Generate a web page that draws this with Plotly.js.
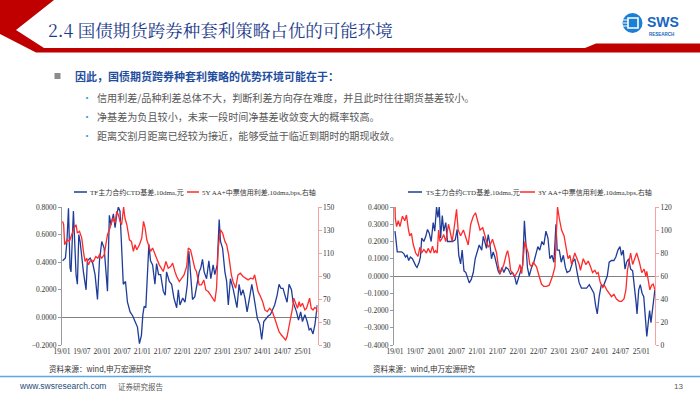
<!DOCTYPE html>
<html><head><meta charset="utf-8">
<script src="https://cdn.plot.ly/plotly-3.0.1.min.js"></script>
<style>html,body{margin:0;padding:0;background:#fff}#c{width:700px;height:394px}</style>
</head><body><div id="c"></div>
<script>
// ---- data: left chart (TF basis, 5Y AA+ spread) ----
const tfDates = ['2019-01-07','2019-02-01','2019-02-15','2019-03-01','2019-03-15','2019-03-24','2019-04-15','2019-04-24','2019-05-09','2019-05-21','2019-06-03','2019-06-15','2019-06-30','2019-07-15','2019-08-08','2019-08-20','2019-09-14','2019-10-08','2019-10-29','2019-11-20','2019-12-08','2019-12-29','2020-01-20','2020-02-19','2020-03-07','2020-03-22','2020-04-13','2020-04-28','2020-05-13','2020-05-28','2020-06-12','2020-06-27','2020-07-12','2020-08-01','2020-08-19','2020-09-12','2020-10-06','2020-10-27','2020-11-18','2020-12-06','2020-12-24','2021-01-06','2021-01-18','2021-02-02','2021-02-17','2021-03-02','2021-03-17','2021-04-05','2021-04-26','2021-05-11','2021-05-29','2021-06-17','2021-07-11','2021-07-29','2021-08-10','2021-09-04','2021-09-25','2021-10-16','2021-11-10','2021-11-25','2021-12-10','2022-01-04','2022-01-25','2022-02-15','2022-03-01','2022-03-16','2022-04-03','2022-04-24','2022-05-09','2022-06-03','2022-06-18','2022-07-03','2022-07-18','2022-08-09','2022-08-30','2022-09-17','2022-10-08','2022-10-23','2022-11-14','2022-12-02','2022-12-14','2023-01-02','2023-01-23','2023-02-08','2023-02-23','2023-03-14','2023-04-07','2023-04-28','2023-05-13','2023-06-01','2023-06-19','2023-07-07','2023-07-25','2023-08-13','2023-09-07','2023-09-25','2023-10-12','2023-11-01','2023-11-15','2023-12-06','2023-12-24','2024-01-12','2024-02-01','2024-02-21','2024-03-12','2024-03-30','2024-04-20','2024-05-12','2024-05-30','2024-06-17','2024-07-05','2024-07-23','2024-08-11','2024-08-29','2024-09-20','2024-10-05','2024-10-20','2024-11-05','2024-11-23','2024-12-13','2024-12-29','2025-01-20','2025-02-10','2025-02-28','2025-03-16','2025-04-04','2025-04-22','2025-05-04','2025-05-13'];
const tfBasis = [0.41,0.43,0.55,0.79,0.36,0.33,0.77,0.55,0.31,0.24,0.60,0.55,0.41,0.33,0.20,0.41,0.43,0.39,0.31,0.13,0.41,0.55,0.50,0.19,0.74,0.67,0.75,0.65,0.74,0.80,0.77,0.43,0.24,0.26,0.11,0.04,0.01,-0.03,-0.07,-0.19,-0.13,0.02,0.08,0.07,0.38,0.53,0.41,0.38,0.24,0.39,0.31,0.31,0.19,0.16,0.33,0.26,0.24,0.14,0.07,0.20,0.09,0.14,0.11,0.24,0.48,0.33,0.13,0.15,0.21,0.33,0.36,0.42,0.33,0.28,0.41,0.28,0.38,0.31,0.38,0.71,0.55,0.50,0.33,0.26,0.09,0.28,0.21,0.14,0.07,0.24,0.16,0.20,0.14,0.04,0.16,0.24,0.16,0.07,-0.01,-0.05,-0.16,-0.03,-0.01,0.01,0.02,0.05,0.09,0.16,0.24,0.21,0.21,0.16,0.11,0.24,0.20,0.11,0.08,0.04,-0.02,0.04,-0.03,0.02,-0.03,-0.09,-0.08,-0.12,-0.05,0.02,0.09];

const aa5Dates = ['2019-01-07','2019-01-16','2019-01-25','2019-02-15','2019-03-09','2019-03-30','2019-04-21','2019-05-09','2019-05-21','2019-06-09','2019-06-30','2019-07-15','2019-07-30','2019-08-14','2019-08-29','2019-09-20','2019-10-14','2019-11-05','2019-11-23','2019-12-08','2019-12-29','2020-01-20','2020-02-07','2020-02-19','2020-03-13','2020-04-07','2020-04-28','2020-05-13','2020-05-28','2020-06-12','2020-06-27','2020-07-15','2020-07-27','2020-08-13','2020-09-06','2020-09-24','2020-10-12','2020-10-27','2020-11-12','2020-12-06','2020-12-27','2021-01-12','2021-01-27','2021-02-11','2021-02-26','2021-03-17','2021-04-05','2021-04-26','2021-05-11','2021-06-05','2021-06-26','2021-07-11','2021-08-04','2021-08-25','2021-09-16','2021-10-04','2021-10-25','2021-11-10','2021-12-04','2021-12-25','2022-01-16','2022-02-09','2022-02-24','2022-03-16','2022-04-03','2022-04-24','2022-05-09','2022-06-03','2022-06-24','2022-07-15','2022-08-02','2022-08-24','2022-09-14','2022-10-08','2022-10-23','2022-11-08','2022-11-23','2022-12-14','2023-01-02','2023-01-23','2023-02-08','2023-02-26','2023-03-08','2023-03-23','2023-04-07','2023-05-01','2023-05-22','2023-06-13','2023-07-07','2023-08-01','2023-08-22','2023-09-13','2023-10-06','2023-10-21','2023-11-06','2023-11-21','2023-12-06','2024-01-01','2024-01-22','2024-02-12','2024-03-06','2024-03-30','2024-04-20','2024-05-12','2024-05-30','2024-06-20','2024-07-11','2024-07-29','2024-08-11','2024-08-26','2024-09-11','2024-09-29','2024-10-11','2024-10-29','2024-11-14','2024-11-29','2024-12-10','2024-12-29','2025-01-20','2025-02-04','2025-02-19','2025-03-04','2025-03-19','2025-04-04','2025-04-19','2025-05-04','2025-05-13'];
const aa5Spread = [137.5,134.6,117.2,121.5,120.1,125.9,131.7,134.6,127.3,128.8,123.0,111.4,102.6,105.5,99.7,104.1,102.6,107.0,105.5,108.4,105.5,108.4,120.1,125.9,131.7,140.4,136.1,146.2,143.3,137.5,134.6,150.0,140.4,134.6,121.5,120.1,111.4,117.2,112.8,117.2,123.0,137.5,131.7,121.5,117.2,111.4,114.3,108.4,105.5,99.7,96.8,93.9,102.6,96.8,98.3,101.2,93.9,89.6,85.2,88.1,91.0,98.3,114.3,112.8,105.5,96.8,93.9,82.3,82.3,86.6,77.9,76.5,73.6,69.2,67.8,79.4,114.3,130.2,127.3,120.1,117.2,108.4,99.7,91.0,85.2,79.4,91.0,92.5,89.6,88.1,86.6,88.1,87.5,91.0,82.3,76.5,73.6,67.8,60.5,59.0,61.9,59.0,53.2,47.4,41.6,38.7,35.8,34.4,37.3,44.5,53.2,61.9,70.7,64.9,61.9,67.8,63.4,66.3,60.5,61.9,67.8,70.7,61.9,60.5,62.5,61.9,58.5];

// ---- data: right chart (TS basis, 3Y AA+ spread) ----
const tsDates = ['2019-01-01','2019-01-10','2019-01-21','2019-02-28','2019-03-20','2019-04-04','2019-04-18','2019-05-03','2019-05-18','2019-06-05','2019-06-17','2019-07-04','2019-07-16','2019-08-04','2019-08-15','2019-08-27','2019-09-15','2019-10-02','2019-10-17','2019-11-01','2019-11-19','2019-12-07','2019-12-21','2020-01-06','2020-01-18','2020-01-30','2020-02-11','2020-02-26','2020-03-10','2020-03-28','2020-04-12','2020-05-03','2020-05-27','2020-06-20','2020-07-07','2020-07-22','2020-08-07','2020-08-21','2020-09-06','2020-09-23','2020-10-11','2020-10-23','2020-11-10','2020-11-28','2020-12-15','2021-01-03','2021-01-20','2021-02-11','2021-02-25','2021-03-10','2021-03-25','2021-04-10','2021-04-24','2021-05-09','2021-05-24','2021-06-08','2021-06-23','2021-07-07','2021-07-22','2021-08-10','2021-08-27','2021-09-15','2021-10-05','2021-10-26','2021-11-13','2021-12-04','2021-12-18','2022-01-06','2022-01-24','2022-02-11','2022-02-26','2022-03-10','2022-03-25','2022-04-10','2022-05-01','2022-05-21','2022-06-08','2022-06-26','2022-07-13','2022-08-01','2022-08-18','2022-09-06','2022-09-24','2022-10-11','2022-10-29','2022-11-16','2022-12-04','2022-12-15','2023-01-03','2023-01-20','2023-02-08','2023-02-26','2023-03-13','2023-04-07','2023-05-01','2023-05-21','2023-06-11','2023-06-29','2023-07-19','2023-08-10','2023-09-03','2023-09-27','2023-10-20','2023-11-07','2023-11-22','2023-12-07','2023-12-24','2024-01-12','2024-01-30','2024-02-17','2024-03-05','2024-03-22','2024-04-12','2024-05-03','2024-05-20','2024-06-08','2024-06-26','2024-07-10','2024-07-25','2024-08-10','2024-08-24','2024-09-12','2024-09-29','2024-10-17','2024-11-01','2024-11-16','2024-11-25','2024-12-10','2024-12-24','2025-01-09','2025-01-24','2025-02-08','2025-02-20','2025-03-05','2025-03-17','2025-03-29','2025-04-12','2025-05-03'];
const tsBasis = [0.26,0.20,0.14,0.14,0.13,0.11,0.12,0.09,0.11,0.10,0.08,0.06,0.05,0.08,0.11,0.22,0.20,0.23,0.27,0.25,0.20,0.31,0.26,0.40,0.34,0.40,0.22,0.35,0.26,0.31,0.20,0.20,0.20,0.21,0.27,0.12,0.07,0.15,0.03,0.02,-0.01,-0.04,-0.02,0.02,0.10,0.15,0.18,0.15,0.23,0.20,0.16,0.24,0.19,0.10,0.14,0.11,0.06,0.03,0.01,0.05,0.02,0.05,0.04,0.01,0.02,-0.01,-0.05,0.00,0.03,0.06,0.32,0.20,0.05,0.00,0.05,0.08,0.12,0.17,0.15,0.20,0.18,0.26,0.22,0.10,0.12,0.08,0.30,0.15,0.15,0.08,0.12,0.05,0.02,0.03,0.08,0.10,0.02,-0.04,-0.07,-0.07,-0.07,-0.05,-0.08,-0.10,-0.17,-0.22,-0.12,-0.05,-0.06,-0.03,0.00,0.08,0.09,0.09,0.11,0.15,0.17,0.12,0.15,0.04,0.08,0.10,0.04,0.03,-0.05,-0.15,-0.22,-0.08,-0.05,-0.10,-0.12,-0.25,-0.35,-0.27,-0.20,-0.27,-0.20,-0.08];

const aa3Dates = ['2019-01-01','2019-01-04','2019-01-15','2019-01-30','2019-02-14','2019-03-08','2019-03-29','2019-04-13','2019-05-01','2019-05-12','2019-05-27','2019-06-11','2019-07-04','2019-07-25','2019-08-10','2019-08-24','2019-09-15','2019-10-08','2019-10-23','2019-11-13','2019-12-01','2019-12-16','2019-12-28','2020-01-12','2020-01-24','2020-02-05','2020-02-20','2020-03-10','2020-03-28','2020-04-10','2020-04-21','2020-05-03','2020-05-24','2020-06-08','2020-07-02','2020-07-16','2020-08-07','2020-09-01','2020-09-30','2020-10-14','2020-11-05','2020-11-28','2020-12-18','2021-01-03','2021-01-27','2021-02-20','2021-03-10','2021-04-10','2021-05-01','2021-05-18','2021-06-08','2021-06-23','2021-07-07','2021-07-22','2021-08-07','2021-08-27','2021-09-21','2021-09-30','2021-10-14','2021-10-26','2021-11-13','2021-12-04','2022-01-03','2022-01-18','2022-02-02','2022-02-17','2022-03-02','2022-03-16','2022-04-01','2022-04-15','2022-05-01','2022-05-15','2022-06-14','2022-07-07','2022-07-28','2022-08-18','2022-09-12','2022-10-05','2022-10-17','2022-11-04','2022-11-25','2022-12-10','2022-12-18','2023-01-03','2023-01-23','2023-02-14','2023-03-01','2023-03-22','2023-04-07','2023-04-22','2023-05-21','2023-06-11','2023-06-29','2023-07-10','2023-08-04','2023-08-27','2023-09-18','2023-10-08','2023-10-26','2023-11-16','2023-12-01','2023-12-15','2024-01-01','2024-01-24','2024-02-08','2024-02-29','2024-03-22','2024-04-12','2024-05-03','2024-05-26','2024-06-20','2024-07-10','2024-08-01','2024-08-18','2024-09-01','2024-09-18','2024-09-29','2024-10-17','2024-11-01','2024-11-22','2024-12-16','2025-01-06','2025-01-27','2025-02-11','2025-02-20','2025-03-05','2025-03-19','2025-04-04','2025-04-18','2025-05-03'];
const aa3Spread = [120,110,103,108,103,112,108,113,100,95,97,88,80,77,85,80,83,80,84,80,86,80,82,80,100,90,92,96,90,100,105,100,90,100,118,100,95,100,90,87,105,112,115,108,100,102,95,85,88,92,85,80,70,62,65,70,80,82,75,65,62,60,65,70,62,75,90,85,80,70,68,72,68,60,53,51,51,52,55,60,68,100,120,110,100,95,85,75,78,70,80,75,70,65,75,70,73,68,63,65,62,63,55,50,52,48,45,42,44,40,38,38,40,48,65,75,80,70,75,80,72,63,66,60,64,55,48,52,53,48];

const leg = {
  tf: 'TF主力合约CTD基差,10dma,元', aa5: '5Y AA+中票信用利差,10dma,bps,右轴',
  ts: 'TS主力合约CTD基差,10dma,元', aa3: '3Y AA+中票信用利差,10dma,bps,右轴'
};

// ---- helpers for page decoration (paper coordinates from page pixels) ----
const W = 700, H = 394;
const px = x => x / W, py = y => 1 - y / H;
const path = pts => 'M' + pts.map(p => px(p[0]).toFixed(5) + ',' + py(p[1]).toFixed(5)).join(' L') + ' Z';

const BLUE = '#1f3c98', RED = '#ff2a2a';
const tickFont = {family: 'Liberation Serif, Times New Roman, serif', size: 7.5, color: '#333'};
const cjk = 'Liberation Serif, Noto Sans CJK SC, sans-serif';

const traces = [
  {x: tfDates, y: tfBasis, type: 'scatter', mode: 'lines', xaxis: 'x', yaxis: 'y', line: {color: BLUE, width: 1.3}},
  {x: aa5Dates, y: aa5Spread, type: 'scatter', mode: 'lines', xaxis: 'x', yaxis: 'y2', line: {color: RED, width: 1.3}},
  {x: tsDates, y: tsBasis, type: 'scatter', mode: 'lines', xaxis: 'x2', yaxis: 'y3', line: {color: BLUE, width: 1.3}},
  {x: aa3Dates, y: aa3Spread, type: 'scatter', mode: 'lines', xaxis: 'x2', yaxis: 'y4', line: {color: RED, width: 1.3}}
];

const yDom = [py(345), py(207)];
const xBase = {type: 'date', dtick: 'M6', tick0: '2019-01-01', tickformat: '%y/%m', showgrid: false,
  showline: false, zeroline: false, ticks: '', tickfont: tickFont, fixedrange: true};
const yLeft = {showgrid: false, showline: true, linecolor: '#9a9a9a', linewidth: 1, ticks: 'outside',
  ticklen: 3, tickcolor: '#9a9a9a', tickformat: '.4f', tickfont: tickFont, zeroline: true,
  zerolinecolor: '#808080', zerolinewidth: 1, domain: yDom};
const yRight = {showgrid: false, showline: true, linecolor: '#f4a3a3', linewidth: 1, ticks: 'outside',
  ticklen: 3, tickcolor: '#f4a3a3', tickfont: tickFont, zeroline: false, side: 'right'};

const layout = {
  width: W, height: H, margin: {l: 0, r: 0, t: 0, b: 0}, paper_bgcolor: '#fff', plot_bgcolor: 'rgba(0,0,0,0)',
  showlegend: false,
  xaxis: Object.assign({}, xBase, {domain: [px(62), px(317.5)], anchor: 'y', range: ['2019-01-01', '2025-05-15']}),
  yaxis: Object.assign({}, yLeft, {anchor: 'x', range: [-0.2, 0.8], dtick: 0.2, tick0: -0.2}),
  yaxis2: Object.assign({}, yRight, {anchor: 'x', overlaying: 'y', range: [30, 150], dtick: 20, tick0: 30}),
  xaxis2: Object.assign({}, xBase, {domain: [px(394), px(655)], anchor: 'y3', range: ['2018-12-23', '2025-05-04']}),
  yaxis3: Object.assign({}, yLeft, {anchor: 'x2', range: [-0.4, 0.4], dtick: 0.1, tick0: -0.4}),
  yaxis4: Object.assign({}, yRight, {anchor: 'x2', overlaying: 'y3', range: [0, 120], dtick: 20, tick0: 0}),
  shapes: [
    // red chevron + header bar
    {type: 'path', xref: 'paper', yref: 'paper', path: path([[0,0],[54,0],[16,30],[44,48],[44,52.5],[36,52.5],[0,34]]), fillcolor: '#c00000', line: {width: 0}},
    {type: 'path', xref: 'paper', yref: 'paper', path: path([[44,48],[585,48],[596,43.5],[700,43.5],[700,52.5],[44,52.5]]), fillcolor: '#c00000', line: {width: 0}},
    // logo
    {type: 'circle', xref: 'paper', yref: 'paper', x0: px(622.5), x1: px(642.5), y0: py(33), y1: py(13), fillcolor: '#1c7fd6', line: {width: 0}},
    {type: 'rect', xref: 'paper', yref: 'paper', x0: px(628), x1: px(638), y0: py(28), y1: py(18), fillcolor: 'rgba(0,0,0,0)', line: {color: '#fff', width: 1.6}},
    {type: 'line', xref: 'paper', yref: 'paper', x0: px(623), x1: px(628), y0: py(20), y1: py(20), line: {color: '#fff', width: 1}},
    {type: 'line', xref: 'paper', yref: 'paper', x0: px(623), x1: px(628), y0: py(23), y1: py(23), line: {color: '#fff', width: 1}},
    {type: 'line', xref: 'paper', yref: 'paper', x0: px(623), x1: px(628), y0: py(26), y1: py(26), line: {color: '#fff', width: 1}},
    // bullet square
    {type: 'rect', xref: 'paper', yref: 'paper', x0: px(54.5), x1: px(60.5), y0: py(79), y1: py(73), fillcolor: '#8c8c8c', line: {width: 0}},
    // legend lines
    {type: 'line', xref: 'paper', yref: 'paper', x0: px(74), x1: px(87), y0: py(192), y1: py(192), line: {color: BLUE, width: 1.5}},
    {type: 'line', xref: 'paper', yref: 'paper', x0: px(187), x1: px(199), y0: py(192), y1: py(192), line: {color: RED, width: 1.5}},
    {type: 'line', xref: 'paper', yref: 'paper', x0: px(408), x1: px(422), y0: py(192), y1: py(192), line: {color: BLUE, width: 1.5}},
    {type: 'line', xref: 'paper', yref: 'paper', x0: px(520), x1: px(535), y0: py(192), y1: py(192), line: {color: RED, width: 1.5}},
    // footer line
    {type: 'line', xref: 'paper', yref: 'paper', x0: 0, x1: 1, y0: py(376.5), y1: py(376.5), line: {color: '#5aa9e6', width: 1.5}}
  ],
  annotations: []
};

function txt(t, x, y, size, color, opts) {
  layout.annotations.push(Object.assign({text: t, xref: 'paper', yref: 'paper', x: px(x), y: py(y),
    xanchor: 'left', yanchor: 'middle', showarrow: false, font: {size: size, color: color, family: 'Noto Sans CJK SC, sans-serif'}}, opts || {}));
}
txt('2.4 国债期货跨券种套利策略占优的可能环境', 46, 29, 17.5, '#1c3a8a', {font: {size: 17.5, color: '#1c3a8a', family: 'Noto Serif CJK SC, Liberation Serif, Noto Sans CJK SC, serif'}});
txt('<b>SWS</b>', 646, 21.5, 14, '#1565c0', {font: {size: 14, color: '#1565c0', family: 'Liberation Sans, Arial, sans-serif'}, borderpad: 0});
txt('<b>RESEARCH</b>', 647.5, 34, 4.5, '#1565c0', {font: {size: 4.5, color: '#1565c0', family: 'Liberation Sans, Arial, sans-serif'}, borderpad: 0});
txt('<b>因此，国债期货跨券种套利策略的优势环境可能在于：</b>', 73, 76.5, 11, '#1f4e9e');
const bullets = ['信用利差/品种利差总体不大，判断利差方向存在难度，并且此时往往期货基差较小。',
  '净基差为负且较小，未来一段时间净基差收敛变大的概率较高。',
  '距离交割月距离已经较为接近，能够受益于临近到期时的期现收敛。'];
[97, 116.5, 136].forEach((y, i) => {
  txt('•', 80, y, 10, '#2aa6e0');
  txt(bullets[i], 95, y, 10.1, '#595959');
});
const legFont = () => ({font: {size: 7, color: '#333', family: cjk}});
txt(leg.tf, 88, 192, 7, '#333', legFont());
txt(leg.aa5, 200, 192, 7, '#333', legFont());
txt(leg.ts, 423.5, 192, 7, '#333', legFont());
txt(leg.aa3, 536, 192, 7, '#333', legFont());
txt('资料来源：wind,申万宏源研究', 47, 368, 7.5, '#333');
txt('资料来源：wind,申万宏源研究', 371, 368, 7.5, '#333');
txt('www.swsresearch.com', 17, 386, 8.5, '#1f4e79', {font: {size: 8.5, color: '#1f4e79', family: 'Liberation Sans, Arial, sans-serif'}});
txt('证券研究报告', 116, 386, 7.5, '#595959');
txt('13', 678, 386, 8, '#595959', {xanchor: 'center', font: {size: 8, color: '#595959', family: 'Liberation Sans, Arial, sans-serif'}});

Plotly.newPlot('c', traces, layout, {staticPlot: true, displayModeBar: false});
</script></body></html>
